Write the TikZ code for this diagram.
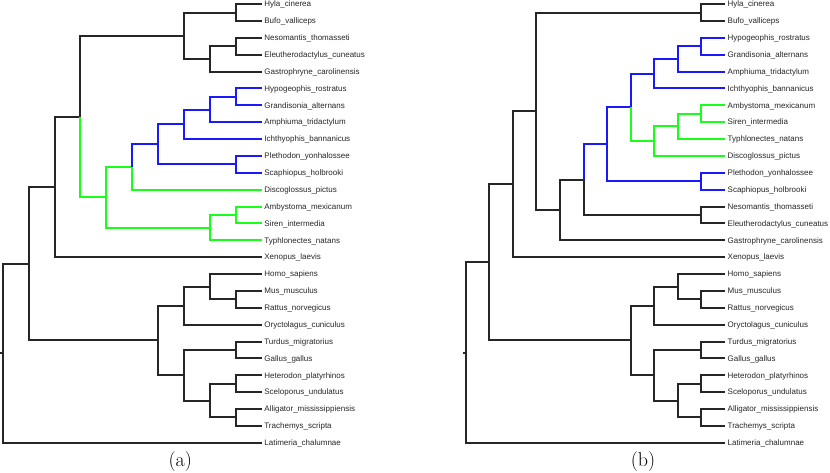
\documentclass[tikz,border=0pt]{standalone}
\usepackage{fontspec}
\newfontfamily\labfont{Liberation Sans}
\newcommand\usc{\char95\relax}
\definecolor{tblue}{RGB}{25,25,255}
\definecolor{tgreen}{RGB}{25,255,25}
\begin{document}
\begin{tikzpicture}[x=1pt,y=-1pt,
  edge/.style={draw=black!85, line width=2pt},
  bedge/.style={edge, draw=tblue},
  gedge/.style={edge, draw=tgreen},
  lab/.style={anchor=base west, inner sep=0pt, text=black!85, font=\labfont\fontsize{8}{9.6}\selectfont},
  captext/.style={anchor=base, inner sep=0pt, font=\fontsize{20}{24}\selectfont}]
\useasboundingbox (0,0) rectangle (830,473);

% ---------- (a) leaves
\foreach \nm/\txt/\i in {
 Hyla/Hyla\usc cinerea/0, Bufo/Bufo\usc valliceps/1, Neso/Nesomantis\usc thomasseti/2,
 Eleu/Eleutherodactylus\usc cuneatus/3, Gast/Gastrophryne\usc carolinensis/4,
 Hypo/Hypogeophis\usc rostratus/5, Gran/Grandisonia\usc alternans/6, Amph/Amphiuma\usc tridactylum/7,
 Icht/Ichthyophis\usc bannanicus/8, Plet/Plethodon\usc yonhalossee/9, Scap/Scaphiopus\usc holbrooki/10,
 Disc/Discoglossus\usc pictus/11, Amby/Ambystoma\usc mexicanum/12, Sire/Siren\usc intermedia/13,
 Typh/Typhlonectes\usc natans/14, Xeno/Xenopus\usc laevis/15, Homo/Homo\usc sapiens/16,
 Musm/Mus\usc musculus/17, Ratt/Rattus\usc norvegicus/18, Oryc/Oryctolagus\usc cuniculus/19,
 Turd/Turdus\usc migratorius/20, Gall/Gallus\usc gallus/21, Hete/Heterodon\usc platyrhinos/22,
 Scel/Sceloporus\usc undulatus/23, Alli/Alligator\usc mississippiensis/24, Trac/Trachemys\usc scripta/25,
 Lati/Latimeria\usc chalumnae/26}
{
 \coordinate (a\nm) at (261.7,{4.1+16.87*\i});
 \node[lab] (a\nm-l) at ([xshift=2.5pt,yshift=-2.8pt]a\nm) {\txt};
}

% ---------- (b) leaves
\foreach \nm/\txt/\i in {
 Hyla/Hyla\usc cinerea/0, Bufo/Bufo\usc valliceps/1,
 Hypo/Hypogeophis\usc rostratus/2, Gran/Grandisonia\usc alternans/3, Amph/Amphiuma\usc tridactylum/4,
 Icht/Ichthyophis\usc bannanicus/5, Amby/Ambystoma\usc mexicanum/6, Sire/Siren\usc intermedia/7,
 Typh/Typhlonectes\usc natans/8, Disc/Discoglossus\usc pictus/9,
 Plet/Plethodon\usc yonhalossee/10, Scap/Scaphiopus\usc holbrooki/11,
 Neso/Nesomantis\usc thomasseti/12, Eleu/Eleutherodactylus\usc cuneatus/13, Gast/Gastrophryne\usc carolinensis/14,
 Xeno/Xenopus\usc laevis/15, Homo/Homo\usc sapiens/16,
 Musm/Mus\usc musculus/17, Ratt/Rattus\usc norvegicus/18, Oryc/Oryctolagus\usc cuniculus/19,
 Turd/Turdus\usc migratorius/20, Gall/Gallus\usc gallus/21, Hete/Heterodon\usc platyrhinos/22,
 Scel/Sceloporus\usc undulatus/23, Alli/Alligator\usc mississippiensis/24, Trac/Trachemys\usc scripta/25,
 Lati/Latimeria\usc chalumnae/26}
{
 \coordinate (b\nm) at (724.97,{4.1+16.87*\i});
 \node[lab] (b\nm-l) at ([xshift=2.5pt,yshift=-2.8pt]b\nm) {\txt};
}

% ---------- (a) internal nodes
\coordinate (aR0)  at (0,353.18);
\coordinate (aR)   at (2.7,353.18);
\coordinate (aA)   at (28.6,263.64);
\coordinate (aB)   at (54.5,186.84);
\coordinate (aC)   at (80.4,116.52);
\coordinate (aG)   at (106.3,197.31);
\coordinate (aG1)  at (132.2,167.0);
\coordinate (aBl)  at (158.1,144.33);
\coordinate (aMR)  at (158.1,340.445);
\coordinate (aF1)  at (184.0,35.73);
\coordinate (aBl1) at (184.0,124.30);
\coordinate (aMam) at (184.0,305.65);
\coordinate (aRep) at (184.0,375.24);
\coordinate (aNEG) at (209.9,58.93);
\coordinate (aBl2) at (209.9,109.54);
\coordinate (aG2)  at (209.9,227.63);
\coordinate (aHMR) at (209.9,286.67);
\coordinate (aSq)  at (209.9,400.545);
\coordinate (aHB)  at (235.8,12.535);
\coordinate (aNE)  at (235.8,46.275);
\coordinate (aHG)  at (235.8,96.885);
\coordinate (aPS)  at (235.8,164.365);
\coordinate (aAS)  at (235.8,214.975);
\coordinate (aMR2) at (235.8,299.325);
\coordinate (aTG)  at (235.8,349.935);
\coordinate (aHS)  at (235.8,383.675);
\coordinate (aAT)  at (235.8,417.415);

% ---------- (a) edges
\draw[edge] (aR0) -- (aR);
\draw[edge] (aR) |- (aA) (aR) |- (aLati);
\draw[edge] (aA) |- (aB) (aA) |- (aMR);
\draw[edge] (aB) |- (aC) (aB) |- (aXeno);
\draw[edge] (aC) |- (aF1);
\draw[edge] (aF1) |- (aHB) (aF1) |- (aNEG);
\draw[edge] (aHB) |- (aHyla) (aHB) |- (aBufo);
\draw[edge] (aNEG) |- (aNE) (aNEG) |- (aGast);
\draw[edge] (aNE) |- (aNeso) (aNE) |- (aEleu);
\draw[gedge] (aC) |- (aG);
\draw[gedge] (aG) |- (aG1) (aG) |- (aG2);
\draw[gedge] (aG1) |- (aDisc);
\draw[gedge] (aG2) |- (aAS) (aG2) |- (aTyph);
\draw[gedge] (aAS) |- (aAmby) (aAS) |- (aSire);
\draw[bedge] (aG1) |- (aBl);
\draw[bedge] (aBl) |- (aBl1) (aBl) |- (aPS);
\draw[bedge] (aBl1) |- (aBl2) (aBl1) |- (aIcht);
\draw[bedge] (aBl2) |- (aHG) (aBl2) |- (aAmph);
\draw[bedge] (aHG) |- (aHypo) (aHG) |- (aGran);
\draw[bedge] (aPS) |- (aPlet) (aPS) |- (aScap);
\draw[edge] (aMR) |- (aMam) (aMR) |- (aRep);
\draw[edge] (aMam) |- (aHMR) (aMam) |- (aOryc);
\draw[edge] (aHMR) |- (aHomo) (aHMR) |- (aMR2);
\draw[edge] (aMR2) |- (aMusm) (aMR2) |- (aRatt);
\draw[edge] (aRep) |- (aTG) (aRep) |- (aSq);
\draw[edge] (aTG) |- (aTurd) (aTG) |- (aGall);
\draw[edge] (aSq) |- (aHS) (aSq) |- (aAT);
\draw[edge] (aHS) |- (aHete) (aHS) |- (aScel);
\draw[edge] (aAT) |- (aAlli) (aAT) |- (aTrac);

% ---------- (b) internal nodes
\coordinate (bR0)  at (463.0,352.52);
\coordinate (bR)   at (465.70,352.52);
\coordinate (bA)   at (489.27,262.32);
\coordinate (bB)   at (512.84,184.2);
\coordinate (bC)   at (536.41,111.25);
\coordinate (bD)   at (559.98,209.97);
\coordinate (bE)   at (583.55,179.65);
\coordinate (bBl)  at (607.12,144.33);
\coordinate (bBl1) at (630.69,107.43);
\coordinate (bMR)  at (630.69,340.445);
\coordinate (bBl2) at (654.26,73.69);
\coordinate (bG)   at (654.26,141.17);
\coordinate (bMam) at (654.26,305.65);
\coordinate (bRep) at (654.26,375.24);
\coordinate (bBl3) at (677.83,58.93);
\coordinate (bG2)  at (677.83,126.41);
\coordinate (bHMR) at (677.83,286.67);
\coordinate (bSq)  at (677.83,400.545);
\coordinate (bHB)  at (701.40,12.535);
\coordinate (bHG)  at (701.40,46.275);
\coordinate (bAS)  at (701.40,113.755);
\coordinate (bPS)  at (701.40,181.235);
\coordinate (bNE)  at (701.40,214.975);
\coordinate (bMR2) at (701.40,299.325);
\coordinate (bTG)  at (701.40,349.935);
\coordinate (bHS)  at (701.40,383.675);
\coordinate (bAT)  at (701.40,417.415);

% ---------- (b) edges
\draw[edge] (bR0) -- (bR);
\draw[edge] (bR) |- (bA) (bR) |- (bLati);
\draw[edge] (bA) |- (bB) (bA) |- (bMR);
\draw[edge] (bB) |- (bC) (bB) |- (bXeno);
\draw[edge] (bC) |- (bHB) (bC) |- (bD);
\draw[edge] (bHB) |- (bHyla) (bHB) |- (bBufo);
\draw[edge] (bD) |- (bE) (bD) |- (bGast);
\draw[edge] (bE) |- (bNE);
\draw[edge] (bNE) |- (bNeso) (bNE) |- (bEleu);
\draw[bedge] (bE) |- (bBl);
\draw[bedge] (bBl) |- (bBl1) (bBl) |- (bPS);
\draw[bedge] (bPS) |- (bPlet) (bPS) |- (bScap);
\draw[bedge] (bBl1) |- (bBl2);
\draw[bedge] (bBl2) |- (bBl3) (bBl2) |- (bIcht);
\draw[bedge] (bBl3) |- (bHG) (bBl3) |- (bAmph);
\draw[bedge] (bHG) |- (bHypo) (bHG) |- (bGran);
\draw[gedge] (bBl1) |- (bG);
\draw[gedge] (bG) |- (bG2) (bG) |- (bDisc);
\draw[gedge] (bG2) |- (bAS) (bG2) |- (bTyph);
\draw[gedge] (bAS) |- (bAmby) (bAS) |- (bSire);
\draw[edge] (bMR) |- (bMam) (bMR) |- (bRep);
\draw[edge] (bMam) |- (bHMR) (bMam) |- (bOryc);
\draw[edge] (bHMR) |- (bHomo) (bHMR) |- (bMR2);
\draw[edge] (bMR2) |- (bMusm) (bMR2) |- (bRatt);
\draw[edge] (bRep) |- (bTG) (bRep) |- (bSq);
\draw[edge] (bTG) |- (bTurd) (bTG) |- (bGall);
\draw[edge] (bSq) |- (bHS) (bSq) |- (bAT);
\draw[edge] (bHS) |- (bHete) (bHS) |- (bScel);
\draw[edge] (bAT) |- (bAlli) (bAT) |- (bTrac);

% ---------- captions
\node[captext] (capa) at (180.2,466.7) {(a)};
\node[captext] (capb) at (643.0,466.7) {(b)};
\end{tikzpicture}
\end{document}
